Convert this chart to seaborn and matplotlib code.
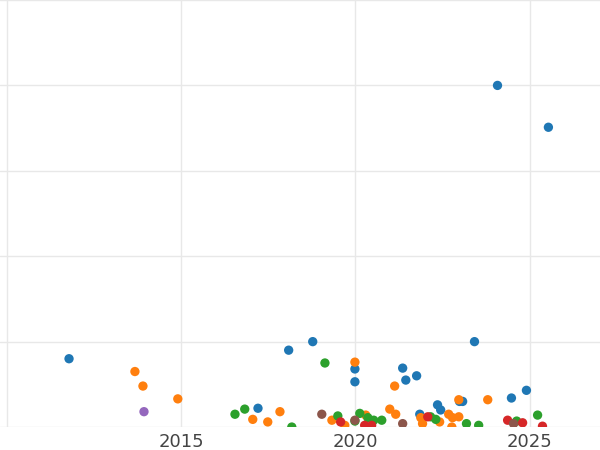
import matplotlib
matplotlib.use('Agg')
import matplotlib.pyplot as plt
import seaborn as sns
import pandas as pd

# values (year, value) per group
blue_x = [2011.79, 2018.09, 2018.78, 2019.99, 2019.99, 2021.36, 2021.45, 2021.76, 2023.42, 2024.08,
          2025.54, 2017.21, 2021.85, 2022.36, 2022.45, 2022.99, 2023.08, 2024.48, 2024.91]
blue_y = [0.80, 0.90, 1.00, 0.68, 0.53, 0.69, 0.55, 0.60, 1.00, 4.00,
          3.51, 0.22, 0.15, 0.26, 0.20, 0.30, 0.30, 0.34, 0.43]
orange_x = [2013.68, 2013.91, 2014.91, 2019.99, 2021.13, 2022.97, 2023.80, 2017.06, 2017.49, 2017.84, 2019.33,
            2020.30, 2020.99, 2021.16, 2021.88, 2022.42, 2022.68, 2022.79, 2022.97, 2022.77, 2021.93, 2019.70]
orange_y = [0.65, 0.48, 0.33, 0.76, 0.48, 0.32, 0.32, 0.09, 0.06, 0.18, 0.08,
            0.14, 0.21, 0.15, 0.11, 0.06, 0.15, 0.11, 0.12, 0.0, 0.04, 0.02]
green_x = [2019.13, 2016.55, 2016.83, 2018.18, 2019.50, 2020.13, 2020.36, 2020.53, 2020.76, 2019.99,
           2023.19, 2023.54, 2024.63, 2025.23, 2022.16, 2022.31]
green_y = [0.75, 0.15, 0.21, 0.0, 0.13, 0.16, 0.11, 0.08, 0.08, 0.07,
           0.04, 0.02, 0.07, 0.14, 0.12, 0.09]
red_x = [2019.58, 2020.27, 2020.47, 2022.08, 2024.37, 2024.80, 2025.37]
red_y = [0.06, 0.02, 0.02, 0.12, 0.08, 0.05, 0.01]
purple_x = [2013.94]
purple_y = [0.18]
brown_x = [2019.04, 2021.36, 2024.54, 2019.99]
brown_y = [0.15, 0.04, 0.04, 0.08]

groups = [('A', blue_x, blue_y), ('B', orange_x, orange_y), ('C', green_x, green_y),
          ('D', red_x, red_y), ('E', purple_x, purple_y), ('F', brown_x, brown_y)]
df = pd.concat([pd.DataFrame({'year': x, 'value': y, 'group': g}) for g, x, y in groups])

sns.set_theme(style='whitegrid')
fig = plt.figure(figsize=(6, 4.5), dpi=100)
ax = fig.add_axes([0, 0.051, 1, 0.949])
sns.scatterplot(data=df, x='year', y='value', hue='group', palette='tab10', s=45,
                linewidth=0, legend=False, ax=ax)
ax.set_xlim(2009.81, 2027.02)
ax.set_ylim(0, 5)
ax.set_xticks([2010, 2015, 2020, 2025])
ax.set_xticklabels(['', '2015', '2020', '2025'])
ax.set_yticks([0, 1, 2, 3, 4, 5])
ax.tick_params(axis='y', labelleft=False, length=0)
ax.tick_params(axis='x', labelsize=13, labelcolor='#444444', length=0, pad=4)
ax.grid(color='#e8e8e8', linewidth=1)
for s in ax.spines.values():
    s.set_visible(False)
ax.set_xlabel('')
ax.set_ylabel('')
fig.savefig('out.png', dpi=100)
